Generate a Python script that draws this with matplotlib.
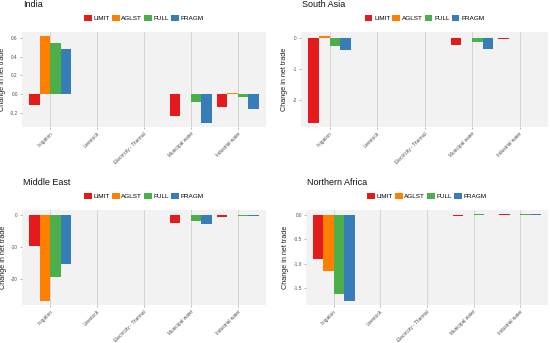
import numpy as np
import matplotlib
matplotlib.use('Agg')
import matplotlib.pyplot as plt
plt.rcParams['font.family'] = ['Liberation Sans', 'DejaVu Sans']

categories = ['Irrigation', 'Livestock', 'Electricity - Thermal', 'Municipal water', 'Industrial water']
scenarios  = ['LIMIT', 'AGLST', 'FULL', 'FRAGM']
colors     = ['#E41A1C', '#FF7F00', '#4DAF4A', '#377EB8']

# values per scenario: LIMIT, AGLST, FULL, FRAGM (one entry per category)
india_limit = [-0.114, 0.0, -0.004, -0.234, -0.139]
india_aglst = [0.618, 0.0, 0.003, -0.003, 0.010]
india_full  = [0.547, 0.0, 0.0, -0.082, -0.028]
india_fragm = [0.487, 0.0, 0.0, -0.313, -0.163]

sasia_limit = [-2.76, 0.0, -0.02, -0.24, -0.04]
sasia_aglst = [0.05, 0.0, 0.0, -0.005, 0.01]
sasia_full  = [-0.25, 0.0, 0.0, -0.15, 0.01]
sasia_fragm = [-0.40, 0.0, -0.01, -0.37, 0.0]

meast_limit = [-9.9, 0.0, -0.2, -2.5, -0.7]
meast_aglst = [-27.0, 0.0, 0.0, -0.05, -0.2]
meast_full  = [-19.4, 0.0, 0.0, -1.9, -0.3]
meast_fragm = [-15.5, 0.0, -0.05, -2.8, -0.4]

nafr_limit = [-0.91, 0.0, 0.0, -0.012, 0.03]
nafr_aglst = [-1.16, 0.0, 0.0, 0.0, 0.01]
nafr_full  = [-1.64, 0.0, 0.0, 0.02, 0.02]
nafr_fragm = [-1.77, 0.0, 0.0, 0.005, 0.02]

panels = [
    ('India', [india_limit, india_aglst, india_full, india_fragm],
     [-0.2, 0.0, 0.2, 0.4, 0.6], '%.1f', (-0.355, 0.664), [22, 32, 266, 127]),
    ('South Asia', [sasia_limit, sasia_aglst, sasia_full, sasia_fragm],
     [-2, -1, 0], '%d', (-2.89, 0.19), [301, 32, 548, 127]),
    ('Middle East', [meast_limit, meast_aglst, meast_full, meast_fragm],
     [-20, -10, 0], '%d', (-28.3, 1.5), [22, 210, 266, 305]),
    ('Northern Africa', [nafr_limit, nafr_aglst, nafr_full, nafr_fragm],
     [-1.5, -1.0, -0.5, 0.0], '%.1f', (-1.86, 0.11), [306, 210, 548, 305]),
]

W, H = 550, 343
fig = plt.figure(figsize=(W / 100, H / 100), dpi=100)
fig.patch.set_facecolor('white')

x = np.arange(1, len(categories) + 1)
bw = 0.225
offsets = [-1.5 * bw, -0.5 * bw, 0.5 * bw, 1.5 * bw]

for title, series, yticks, fmt, ylim, (l, t, r, b) in panels:
    ax = fig.add_axes([l / W, 1 - b / H, (r - l) / W, (b - t) / H])
    ax.set_facecolor('#F2F2F2')
    for s, vals in enumerate(series):
        ax.bar(x + offsets[s], vals, width=bw, color=colors[s], label=scenarios[s], zorder=3)
    for xi in x:
        ax.axvline(xi, color='#CFCFCF', lw=0.6, zorder=1)
    ax.set_xlim(0.4, 5.6)
    ax.set_ylim(*ylim)
    ax.set_yticks(yticks)
    ax.set_yticklabels([fmt % v for v in yticks])
    ax.set_xticks(x)
    ax.set_xticklabels(categories, rotation=45, ha='right', rotation_mode='anchor')
    ax.tick_params(axis='both', labelsize=3.4, colors='#7F7F7F', length=1.5, width=0.4, pad=1.5)
    for lab in ax.get_xticklabels() + ax.get_yticklabels():
        lab.set_color('#4D4D4D')
    for sp in ax.spines.values():
        sp.set_visible(False)
    ax.set_ylabel('Change in net trade', fontsize=5.2, color='#222222', labelpad=3)
    ax.annotate(title, xy=(0, 1), xycoords='axes fraction', xytext=(1, 19.5),
                textcoords='offset points', fontsize=6.5, color='#111111', va='center', ha='left')
    ax.legend(loc='center', bbox_to_anchor=(0.5, 1.0), bbox_transform=ax.transAxes,
              ncol=4, frameon=False, fontsize=4.6, handlelength=1.2, handleheight=1.3,
              handletextpad=0.3, columnspacing=0.3, borderaxespad=0)
    leg = ax.get_legend()
    leg.set_bbox_to_anchor((0.5, 1 + 14 / (b - t)), transform=ax.transAxes)

plt.savefig('out.png', dpi=100)
